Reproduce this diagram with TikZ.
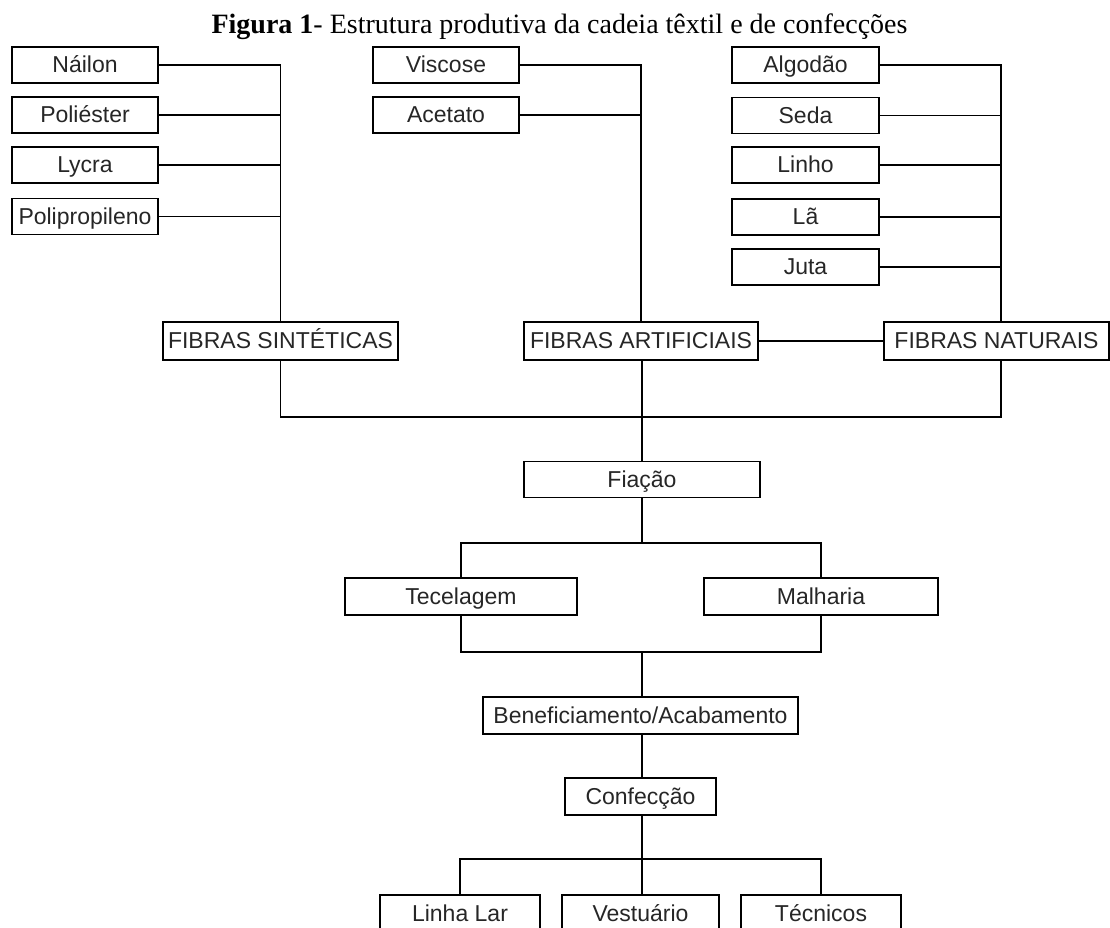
\documentclass[tikz,border=0pt]{standalone}
\usepackage{fontspec}
\setmainfont{Liberation Serif}
\newfontfamily\boxfont{Liberation Sans}
\begin{document}
\begin{tikzpicture}[x=1pt,y=-1pt,
  box/.style={draw=black, line width=1.6pt, fill=white, inner sep=0pt,
    minimum height=36pt, text=black!85, text height=18pt, text depth=3pt,
    font=\boxfont\fontsize{23}{23}\selectfont},
  small/.style={box, minimum width=146pt},
  wire/.style={draw=black, line width=1.6pt}]
\clip (0,0) rectangle (1110,927);
\fill[white] (0,0) rectangle (1110,927);

% title
\node[anchor=base, inner sep=0pt, font=\fontsize{28}{28}\selectfont] (title) at (559.5,33)
  {\textbf{Figura 1}- Estrutura produtiva da cadeia têxtil e de confecções};

% synthetic fibres
\node[small] (nailon) at (85,65) {Náilon};
\node[small] (poliester) at (85,115) {Poliéster};
\node[small] (lycra) at (85,165) {Lycra};
\node[small] (polip) at (85,216.5) {Polipropileno};
\node[box, minimum width=235pt, minimum height=38pt] (sint) at (280.5,341) {FIBRAS SINTÉTICAS};

% artificial fibres
\node[small] (viscose) at (446,65) {Viscose};
\node[small] (acetato) at (446,115) {Acetato};
\node[box, minimum width=234pt, minimum height=38pt] (art) at (641,341) {FIBRAS ARTIFICIAIS};

% natural fibres
\node[small, minimum width=147pt] (algodao) at (805.5,65) {Algodão};
\node[small, minimum width=147pt] (seda) at (805.5,115.5) {Seda};
\node[small, minimum width=147pt] (linho) at (805.5,165) {Linho};
\node[small, minimum width=147pt] (la) at (805.5,217) {Lã};
\node[small, minimum width=147pt] (juta) at (805.5,267) {Juta};
\node[box, minimum width=225pt, minimum height=38pt] (nat) at (996.5,341) {FIBRAS NATURAIS};
\coordinate (nbus) at ([xshift=4.5pt]nat.north);
\coordinate (nbusS) at ([xshift=4.5pt]nat.south);

% processing chain
\node[box, minimum width=236pt] (fiacao) at (642,479.5) {Fiação};
\node[box, minimum width=232pt, minimum height=37pt] (tec) at (461,596.5) {Tecelagem};
\node[box, minimum width=234pt, minimum height=37pt] (mal) at (821,596.5) {Malharia};
\node[box, minimum width=315pt, minimum height=37pt] (benef) at (640.5,715.5) {Beneficiamento/Acabamento};
\node[box, minimum width=151pt, minimum height=37pt] (conf) at (640.5,796.5) {Confecção};
\node[box, minimum width=160pt, minimum height=37pt] (lar) at (460,913.5) {Linha Lar};
\node[box, minimum width=157pt, minimum height=37pt] (vest) at (640.5,913.5) {Vestuário};
\node[box, minimum width=160pt, minimum height=37pt] (tecn) at (821,913.5) {Técnicos};

% synthetic bus
\draw[wire] (nailon.east) -| (sint.north);
\foreach \n in {poliester,lycra,polip}
  \draw[wire] (\n.east) -- (\n.east -| sint.north);

% artificial bus
\draw[wire] (viscose.east) -| (art.north);
\draw[wire] (acetato.east) -- (acetato.east -| art.north);

% natural bus
\draw[wire] (algodao.east) -| (nbus);
\foreach \n in {seda,linho,la,juta}
  \draw[wire] (\n.east) -- (\n.east -| nbus);

% link between artificial and natural fibres
\draw[wire] (art.east) -- (nat.west);

% collector below the fibre groups
\coordinate (fbus) at (642,417);
\draw[wire] (sint.south) |- (fbus);
\draw[wire] (nbusS) |- (fbus);
\draw[wire] (art.south -| fiacao.north) -- (fiacao.north);

% spinning to weaving and knitting
\coordinate (split1) at (642,543);
\draw[wire] (fiacao.south) -- (split1);
\draw[wire] (tec.north) |- (split1) -| (mal.north);

% weaving and knitting to finishing
\coordinate (join1) at (642,652);
\draw[wire] (tec.south) |- (join1) -| (mal.south);
\draw[wire] (join1) -- (benef.north -| join1);
\draw[wire] (benef.south -| join1) -- (conf.north -| join1);

% garment making to end products
\coordinate (split2) at (642,859);
\draw[wire] (conf.south -| split2) -- (vest.north -| split2);
\draw[wire] (lar.north) |- (split2) -| (tecn.north);
\end{tikzpicture}
\end{document}
